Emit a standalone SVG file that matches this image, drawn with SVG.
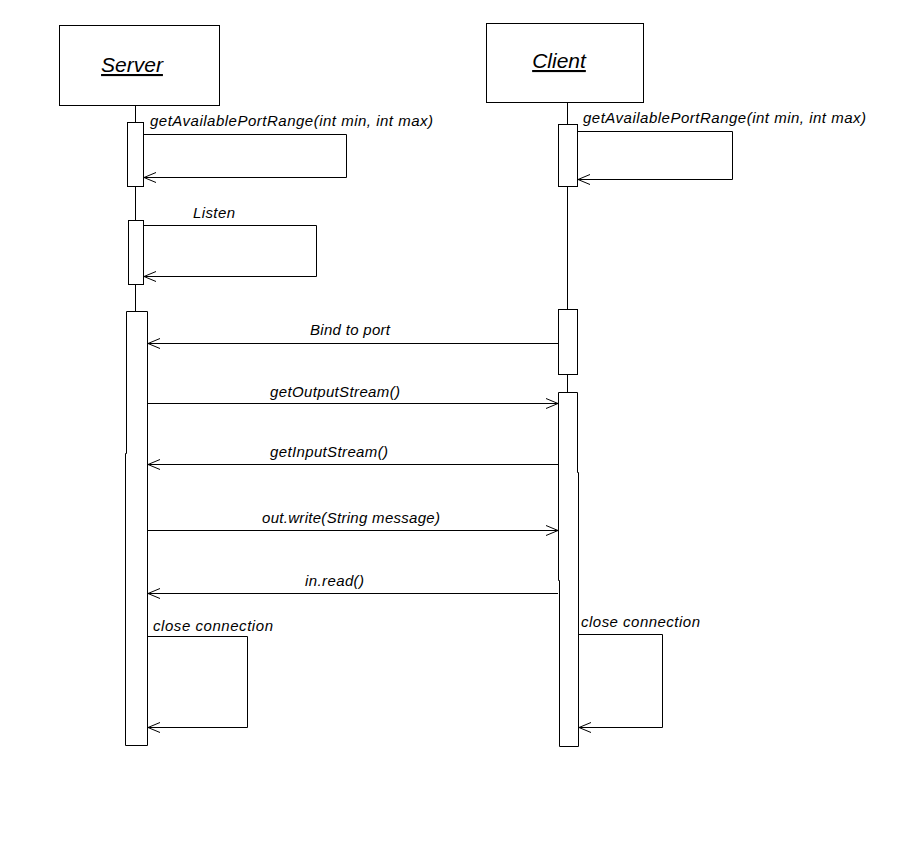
<svg xmlns="http://www.w3.org/2000/svg" width="916" height="849" viewBox="0 0 916 849">
  <style>
    .box { fill: #fff; stroke: #000; stroke-width: 1; }
    .life { stroke: #000; stroke-width: 1; }
    .msg { fill: none; stroke: #000; stroke-width: 1; marker-end: url(#open); }
    .lbl { font-family: "Liberation Sans", Arial, sans-serif; font-style: italic; font-size: 15px; fill: #000; }
    .title { font-family: "Liberation Sans", Arial, sans-serif; font-style: italic; font-size: 21px; fill: #000; text-decoration: underline; }
  </style>
  <defs>
    <marker id="open" viewBox="0 0 14 12" refX="13" refY="6" markerWidth="14" markerHeight="12" markerUnits="userSpaceOnUse" orient="auto">
      <path d="M1,1 L13,6 L1,11" fill="none" stroke="#000" stroke-width="1"/>
    </marker>
  </defs>
  <rect width="916" height="849" fill="#fff"/>

  <!-- lifelines -->
  <g id="lifelines">
    <line class="life" x1="135.5" y1="105" x2="135.5" y2="312"/>
    <line class="life" x1="567.5" y1="102" x2="567.5" y2="392"/>
  </g>

  <g id="server">
    <rect class="box" x="59.5" y="25.5" width="160" height="80"/>
    <text class="title" x="132" y="72" text-anchor="middle">Server</text>
    <rect class="box" x="127.5" y="122.5" width="16" height="64"/>
    <rect class="box" x="128.5" y="220.5" width="15" height="64"/>
    <!-- long activation, left edge steps out by one pixel part way down -->
    <path class="box" d="M126.5,311.5 H147.5 V745.5 H125.5 V453.5 H126.5 Z"/>
  </g>

  <g id="client">
    <rect class="box" x="486.5" y="23.5" width="157" height="79"/>
    <text class="title" x="559" y="68" text-anchor="middle">Client</text>
    <rect class="box" x="558.5" y="124.5" width="19" height="62"/>
    <rect class="box" x="558.5" y="309.5" width="19" height="65"/>
    <!-- stacked activations drawn as one outline with small edge offsets -->
    <path class="box" d="M558.5,392.5 H577.5 V472.5 H578.5 V746.5 H559.5 V580.5 H558.5 Z"/>
  </g>

  <g id="connectors">
    <!-- self calls -->
    <path class="msg" d="M143.5,134.5 H346.5 V177.5 H144"/>
    <path class="msg" d="M143.5,225.5 H316.5 V276.5 H144"/>
    <path class="msg" d="M577.5,131.5 H732.5 V179.5 H578"/>
    <path class="msg" d="M147.5,636.5 H247.5 V727.5 H148"/>
    <path class="msg" d="M578.5,634.5 H662.5 V727.5 H579"/>
    <!-- messages between lifelines -->
    <path class="msg" d="M558,343.5 H148"/>
    <path class="msg" d="M147.5,403.5 H558"/>
    <path class="msg" d="M558,464.5 H148"/>
    <path class="msg" d="M147.5,530.5 H558"/>
    <path class="msg" d="M558,593.5 H148"/>
  </g>

  <g id="labels">
    <text class="lbl" x="150" y="126" textLength="283" lengthAdjust="spacing">getAvailablePortRange(int min, int max)</text>
    <text class="lbl" x="193" y="218" textLength="42" lengthAdjust="spacing">Listen</text>
    <text class="lbl" x="583" y="123" textLength="283" lengthAdjust="spacing">getAvailablePortRange(int min, int max)</text>
    <text class="lbl" x="310" y="335" textLength="80" lengthAdjust="spacing">Bind to port</text>
    <text class="lbl" x="270" y="397" textLength="130" lengthAdjust="spacing">getOutputStream()</text>
    <text class="lbl" x="270" y="457" textLength="118" lengthAdjust="spacing">getInputStream()</text>
    <text class="lbl" x="262" y="523" textLength="178" lengthAdjust="spacing">out.write(String message)</text>
    <text class="lbl" x="305" y="586" textLength="59" lengthAdjust="spacing">in.read()</text>
    <text class="lbl" x="153" y="631" textLength="120" lengthAdjust="spacing">close connection</text>
    <text class="lbl" x="581" y="627" textLength="119" lengthAdjust="spacing">close connection</text>
  </g>
</svg>
